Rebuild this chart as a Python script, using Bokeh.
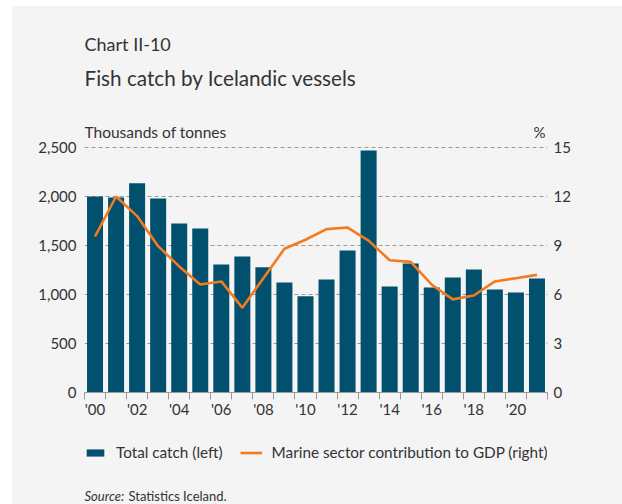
from bokeh.plotting import figure
from bokeh.layouts import column
from bokeh.models import (Range1d, LinearAxis, FixedTicker, NumeralTickFormatter,
                          Label, Legend, LegendItem, ColumnDataSource)
from bokeh.embed import file_html
from bokeh.resources import INLINE

years = list(range(2000, 2022))
total_catch = [2000, 1990, 2136, 1980, 1724, 1673, 1306, 1388, 1279, 1122, 983,
               1153, 1449, 2469, 1082, 1316, 1071, 1173, 1255, 1051, 1020, 1163]
marine_gdp = [9.55, 12.0, 10.8, 8.96, 7.72, 6.61, 6.80, 5.19, 7.0, 8.8, 9.35,
              10.0, 10.1, 9.3, 8.1, 8.0, 6.6, 5.7, 5.94, 6.8, 7.0, 7.2]
left_ticks = [0, 500, 1000, 1500, 2000, 2500]
right_ticks = [0, 3, 6, 9, 12, 15]
label_years = list(range(2000, 2022, 2))
tick_labels = ["'" + str(y)[2:] for y in label_years]

BG = "#f4f4f4"
TXT = "#333333"
BAR = "#00506e"
ORANGE = "#f47a20"
GRID = "#9a9a9a"
FONT = "Lato"
W = 610
BL, BR = 72, 75          # borders left / right of every frame (frames align in a column)
FW = W - BL - BR         # frame width in pixels

def blank(height):
    f = figure(width=W, height=height, output_backend="svg", toolbar_location=None,
               x_range=Range1d(0, FW), y_range=Range1d(height, 0),
               background_fill_color=BG, border_fill_color=BG, outline_line_color=None,
               min_border_left=BL, min_border_right=BR, min_border_top=0, min_border_bottom=0,
               x_axis_type=None, y_axis_type=None)
    f.xgrid.visible = False
    f.ygrid.visible = False
    return f

def lab(fig, text, x, y, size, xo=0, yo=0, align="left", style="normal"):
    fig.add_layout(Label(x=x, y=y, x_offset=xo, y_offset=yo, text=text, text_font=FONT,
                         text_font_size=size, text_color=TXT, text_align=align,
                         text_baseline="middle", text_font_style=style))

src = ColumnDataSource(dict(year=years, catch=total_catch, gdp=marine_gdp))

# ---- top: titles
top = blank(114)
lab(top, "Chart II-10", 0, 37, "18px")
lab(top, "Fish catch by Icelandic vessels", 0, 71, "20.7px")

# ---- main chart
YMAX = 2500 * 272 / 245
p = figure(width=W, height=310, output_backend="svg", toolbar_location=None,
           x_range=Range1d(1999.5, 2021.5), y_range=Range1d(0, YMAX),
           background_fill_color=BG, border_fill_color=BG, outline_line_color=None,
           min_border_left=BL, min_border_right=BR, min_border_top=0, min_border_bottom=38)
p.extra_y_ranges = {"pct": Range1d(0, 15 * YMAX / 2500)}

bars = p.vbar(x="year", top="catch", width=0.76, source=src, fill_color=BAR, line_color=None)
line = p.line(x="year", y="gdp", source=src, color=ORANGE, line_width=2.6,
              y_range_name="pct")

xa = p.xaxis[0]
xa.ticker = FixedTicker(ticks=label_years, minor_ticks=[y - 0.5 for y in years] + [2021.5])
xa.major_label_overrides = {y: t for y, t in zip(label_years, tick_labels)}
xa.major_tick_out = 0
xa.major_tick_in = 0
xa.minor_tick_out = 7
xa.minor_tick_in = 0
xa.minor_tick_line_color = GRID
xa.axis_line_color = GRID
xa.major_label_standoff = 0
xa.major_label_text_font = FONT
xa.major_label_text_font_size = "15px"
xa.major_label_text_color = TXT

ya = p.yaxis[0]
ya.ticker = FixedTicker(ticks=left_ticks)
ya.formatter = NumeralTickFormatter(format="0,0")

yr = LinearAxis(y_range_name="pct", ticker=FixedTicker(ticks=right_ticks))
p.add_layout(yr, "right")
for ax, so in ((ya, 8), (yr, 6)):
    ax.axis_line_color = None
    ax.major_tick_out = 0
    ax.major_tick_in = 0
    ax.minor_tick_out = 0
    ax.minor_tick_in = 0
    ax.major_label_standoff = so
    ax.major_label_text_font = FONT
    ax.major_label_text_font_size = "15px"
    ax.major_label_text_color = TXT

p.xgrid.grid_line_color = None
p.ygrid.ticker = FixedTicker(ticks=left_ticks[1:])
p.ygrid.grid_line_color = GRID
p.ygrid.grid_line_dash = "4 3"
p.ygrid.grid_line_width = 1

lab(p, "Thousands of tonnes", 1999.5, 2500, "15.5px", xo=0, yo=16)
lab(p, "%", 2021.5, 2500, "15px", xo=-2, yo=16, align="right")

# ---- bottom: legend and source
bot = blank(74)
# legend swatches: same series and styles as the chart (zero-height / off-frame, so not drawn here)
lb = bot.vbar(x="year", top="catch", bottom="catch", width=0.76, source=src,
              fill_color=BAR, line_color=None)
ll = bot.line(x="year", y="gdp", source=src, color=ORANGE, line_width=2.6)
legend = Legend(items=[LegendItem(label="Total catch (left)", renderers=[lb]),
                       LegendItem(label="Marine sector contribution to GDP (right)", renderers=[ll])],
                location=(0, 43), orientation="horizontal",
                glyph_width=22, glyph_height=9, label_standoff=10, spacing=17,
                padding=0, margin=0, border_line_color=None,
                background_fill_alpha=0, label_text_font=FONT,
                label_text_font_size="15.3px", label_text_color=TXT)
bot.add_layout(legend, "center")
lab(bot, "Source:", 0, 65, "13px", style="italic")
lab(bot, "Statistics Iceland.", 44, 65, "13px")

layout = column(top, p, bot, spacing=0)
layout.margin = (6, 0, 0, 12)
layout.styles = {"background-color": BG}

open("out.html", "w").write(file_html(layout, INLINE))
